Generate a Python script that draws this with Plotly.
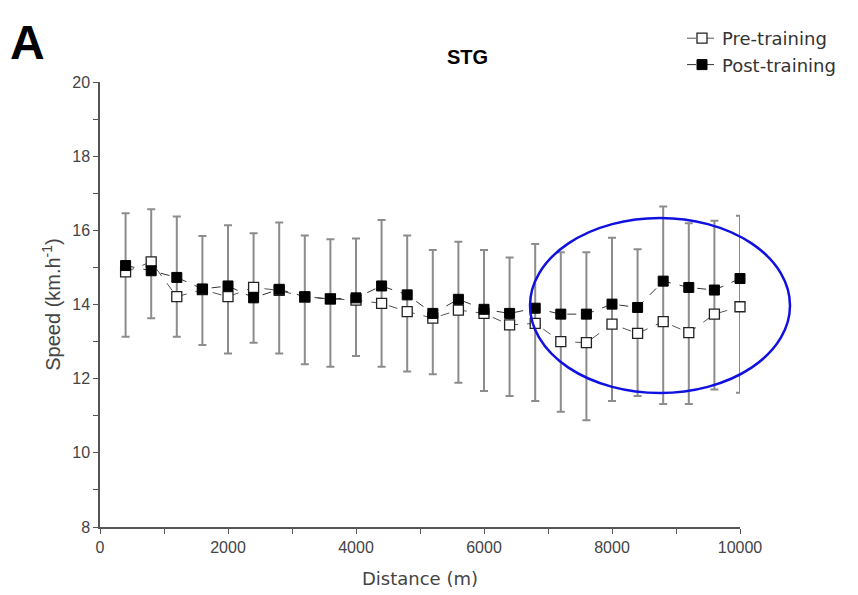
import plotly.graph_objects as go

distance = [400, 800, 1200, 1600, 2000, 2400, 2800, 3200, 3600, 4000, 4400, 4800, 5200,
            5600, 6000, 6400, 6800, 7200, 7600, 8000, 8400, 8800, 9200, 9600, 10000]
post_mean = [15.05, 14.91, 14.73, 14.42, 14.50, 14.18, 14.41, 14.21, 14.15, 14.18, 14.50, 14.26, 13.76,
             14.14, 13.87, 13.76, 13.90, 13.74, 13.74, 14.01, 13.92, 14.63, 14.46, 14.39, 14.70]
pre_mean = [14.88, 15.15, 14.21, 14.40, 14.21, 14.46, 14.38, 14.20, 14.15, 14.12, 14.03, 13.81, 13.63,
            13.85, 13.76, 13.45, 13.49, 13.00, 12.97, 13.47, 13.22, 13.54, 13.24, 13.74, 13.94]
upper_cap = [16.46, 16.57, 16.37, 15.85, 16.14, 15.92, 16.21, 15.86, 15.76, 15.78, 16.28, 15.86, 15.47,
             15.69, 15.47, 15.27, 15.63, 15.41, 15.41, 15.80, 15.49, 16.64, 16.19, 16.26, 16.39]
lower_cap = [13.13, 13.63, 13.13, 12.91, 12.68, 12.97, 12.68, 12.39, 12.32, 12.61, 12.32, 12.19, 12.12,
             11.89, 11.67, 11.53, 11.40, 11.11, 10.88, 11.40, 11.53, 11.32, 11.32, 11.71, 11.62]

FONT = "Liberation Sans, Arial, sans-serif"
WIDE = "DejaVu Sans, Liberation Sans, sans-serif"

fig = go.Figure()

# error bars spanning lower to upper cap
fig.add_trace(go.Scatter(
    x=distance, y=post_mean, mode="markers", cliponaxis=False,
    marker=dict(size=1, color="rgba(0,0,0,0)"),
    error_y=dict(type="data", symmetric=False,
                 array=[u - p for u, p in zip(upper_cap, post_mean)],
                 arrayminus=[p - l for p, l in zip(post_mean, lower_cap)],
                 color="#8c8c8c", thickness=2, width=4),
    showlegend=False, hoverinfo="skip"))

fig.add_trace(go.Scatter(
    x=distance, y=pre_mean, mode="lines+markers", name="Pre-training", cliponaxis=False,
    line=dict(color="#555555", width=1, dash="dash"),
    marker=dict(symbol="square", size=10, color="white", line=dict(color="#222222", width=1.3))))

fig.add_trace(go.Scatter(
    x=distance, y=post_mean, mode="lines+markers", name="Post-training", cliponaxis=False,
    line=dict(color="#333333", width=1, dash="dash"),
    marker=dict(symbol="square", size=10, color="black", line=dict(color="black", width=1))))

L, R, T, B = 100, 118, 82, 68
W = 858 - L - R
H = 595 - T - B

def px(xp):
    return (xp - L) / W

def py(yp):
    return (595 - B - yp) / H

fig.add_shape(type="circle", xref="paper", yref="paper",
              x0=px(530), x1=px(790), y0=py(393), y1=py(218),
              line=dict(color="#1010e0", width=2.5))

fig.add_annotation(text="<b>A</b>", xref="paper", yref="paper", x=px(8), y=py(42),
                   xanchor="left", yanchor="middle", showarrow=False,
                   font=dict(family=FONT, size=48, color="black"))
fig.add_annotation(text="<b>STG</b>", xref="paper", yref="paper", x=px(467), y=py(57),
                   xanchor="center", yanchor="middle", showarrow=False,
                   font=dict(family=FONT, size=20, color="black"))

fig.update_layout(
    width=858, height=595,
    margin=dict(l=L, r=R, t=T, b=B),
    paper_bgcolor="white", plot_bgcolor="white",
    font=dict(family=FONT, size=16, color="#444444"),
    legend=dict(x=px(682), y=py(20), xanchor="left", yanchor="top",
                font=dict(family=WIDE, size=18, color="#333333"),
                bgcolor="rgba(0,0,0,0)", tracegroupgap=0, itemwidth=30),
    xaxis=dict(range=[0, 10000], showgrid=False, zeroline=False, automargin=False,
               showline=True, linecolor="#555555", linewidth=1.5,
               ticks="outside", ticklen=5, tickcolor="#555555", tickwidth=1.2,
               tickvals=[0, 1000, 2000, 3000, 4000, 5000, 6000, 7000, 8000, 9000, 10000],
               ticktext=["0", "", "2000", "", "4000", "", "6000", "", "8000", "", "10000"],
               title=dict(text="Distance (m)", font=dict(family=WIDE, size=18, color="#444444"),
                          standoff=17)),
    yaxis=dict(range=[8, 20], showgrid=False, zeroline=False, automargin=False,
               showline=True, linecolor="#555555", linewidth=1.5,
               ticks="outside", ticklen=5, tickcolor="#555555", tickwidth=1.2,
               tickvals=list(range(8, 21)),
               ticktext=[str(v) if v % 2 == 0 else "" for v in range(8, 21)],
               title=dict(text="Speed (km.h<sup>-1</sup>)", font=dict(family=FONT, size=20, color="#444444"),
                          standoff=6)),
)

fig.write_html("out.html")
